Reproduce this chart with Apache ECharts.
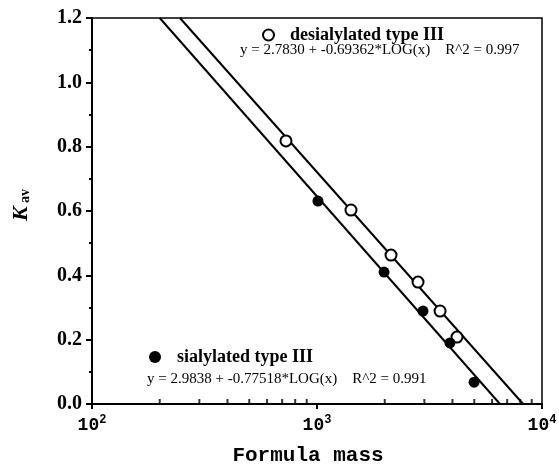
<!DOCTYPE html>
<html>
<head>
<meta charset="utf-8">
<script src="https://cdn.jsdelivr.net/npm/echarts@6/dist/echarts.min.js"></script>
<style>
  html, body { margin: 0; padding: 0; background: #fff; }
  #chart { width: 559px; height: 470px; }
</style>
</head>
<body>
<div id="chart"></div>
<script>
// data
const desialMass = [728, 1416, 2133, 2812, 3524, 4190];
const desialKav  = [0.818, 0.603, 0.463, 0.379, 0.289, 0.208];
const sialMass   = [1010, 1986, 2958, 3899, 4990];
const sialKav    = [0.631, 0.410, 0.289, 0.190, 0.068];

// fitted lines as drawn (end points)
const desialFit = [[246, 1.2], [8246, 0]];
const sialFit   = [[200, 1.2], [6506, 0]];

const minorX = [200, 300, 400, 500, 600, 700, 800, 900, 2000, 3000, 4000, 5000, 6000, 7000, 8000, 9000];

const desialEq = 'y = 2.7830 + -0.69362*LOG(x)    R^2 = 0.997';
const sialEq   = 'y = 2.9838 + -0.77518*LOG(x)    R^2 = 0.991';

const serif = '"Liberation Serif", "DejaVu Serif", serif';
const mono = '"Liberation Mono", "DejaVu Sans Mono", monospace';

const chart = echarts.init(document.getElementById('chart'));

const zip = (xs, ys) => xs.map((x, i) => [x, ys[i]]);

const option = {
  animation: false,
  backgroundColor: '#fff',
  grid: {
    left: 92, right: 17, top: 18, bottom: 66, outerBoundsMode: 'none',
    show: true, borderColor: '#000', borderWidth: 1.5, backgroundColor: 'transparent'
  },
  legend: [
    {
      data: ['desialylated type III'],
      left: 262, top: 26, padding: 0,
      icon: 'circle', itemWidth: 11, itemHeight: 11,
      itemStyle: { color: '#fff', borderColor: '#000', borderWidth: 2 },
      textStyle: { fontFamily: serif, fontWeight: 'bold', fontSize: 18, color: '#000', padding: [0, 0, 0, 11] }
    },
    {
      data: ['sialylated type III'],
      left: 149, top: 348, padding: 0,
      icon: 'circle', itemWidth: 12, itemHeight: 12,
      itemStyle: { color: '#000' },
      textStyle: { fontFamily: serif, fontWeight: 'bold', fontSize: 18, color: '#000', padding: [0, 0, 0, 11] }
    }
  ],
  xAxis: {
    type: 'log', logBase: 10, min: 100, max: 10000,
    name: 'Formula mass', nameLocation: 'middle', nameGap: 41,
    nameTextStyle: { fontFamily: mono, fontWeight: 'bold', fontSize: 21, color: '#000', padding: [0, 18, 0, 0] },
    axisLine: { lineStyle: { color: '#000', width: 2 } },
    axisTick: { length: 5, lineStyle: { color: '#000', width: 2 } },
    splitLine: { show: false },
    axisLabel: {
      margin: 10,
      formatter: v => '{b|10}{s|' + Math.round(Math.log10(v)) + '}',
      rich: {
        b: { fontFamily: mono, fontWeight: 'bold', fontSize: 18, color: '#000' },
        s: { fontFamily: mono, fontWeight: 'bold', fontSize: 12, color: '#000', padding: [0, 0, 10, 0] }
      }
    }
  },
  yAxis: {
    type: 'value', min: 0, max: 1.2, interval: 0.2,
    name: '{k|K}{s| av}', nameLocation: 'middle', nameGap: 60, nameRotate: 90,
    nameTextStyle: {
      padding: [0, 0, 0, 12],
      rich: {
        k: { fontFamily: serif, fontStyle: 'italic', fontWeight: 'bold', fontSize: 22, color: '#000' },
        s: { fontFamily: serif, fontWeight: 'bold', fontSize: 14, color: '#000', padding: [8, 0, 0, 0] }
      }
    },
    axisLine: { lineStyle: { color: '#000', width: 2 } },
    axisTick: { length: 6, lineStyle: { color: '#000', width: 2 } },
    minorTick: { show: true, splitNumber: 2, length: 3, lineStyle: { color: '#000', width: 2 } },
    splitLine: { show: false },
    axisLabel: {
      margin: 10, color: '#000', fontFamily: serif, fontWeight: 'bold', fontSize: 20,
      formatter: v => v.toFixed(1)
    }
  },
  graphic: [
    { type: 'text', left: 240, top: 43, style: { text: desialEq, font: '15px ' + serif, fill: '#000' } },
    { type: 'text', left: 147, top: 372, style: { text: sialEq, font: '15px ' + serif, fill: '#000' } }
  ],
  series: [
    {
      name: 'desial fit', type: 'line', data: desialFit, symbol: 'none',
      lineStyle: { color: '#000', width: 2 }, z: 2
    },
    {
      name: 'sial fit', type: 'line', data: sialFit, symbol: 'none',
      lineStyle: { color: '#000', width: 2 }, z: 2
    },
    {
      name: 'desialylated type III', type: 'scatter', data: zip(desialMass, desialKav),
      symbol: 'circle', symbolSize: 11,
      itemStyle: { color: '#fff', borderColor: '#000', borderWidth: 2, opacity: 1 }, z: 5
    },
    {
      name: 'sialylated type III', type: 'scatter', data: zip(sialMass, sialKav),
      symbol: 'circle', symbolSize: 11,
      itemStyle: { color: '#000', opacity: 1 }, z: 5
    },
    {
      name: 'x minor ticks', type: 'scatter', data: minorX.map(v => [v, 0]),
      symbol: 'rect', symbolSize: [2, 5], symbolOffset: [0, -2.5], clip: false,
      itemStyle: { color: '#000' }, silent: true, z: 6
    }
  ]
};

chart.setOption(option);
</script>
</body>
</html>
